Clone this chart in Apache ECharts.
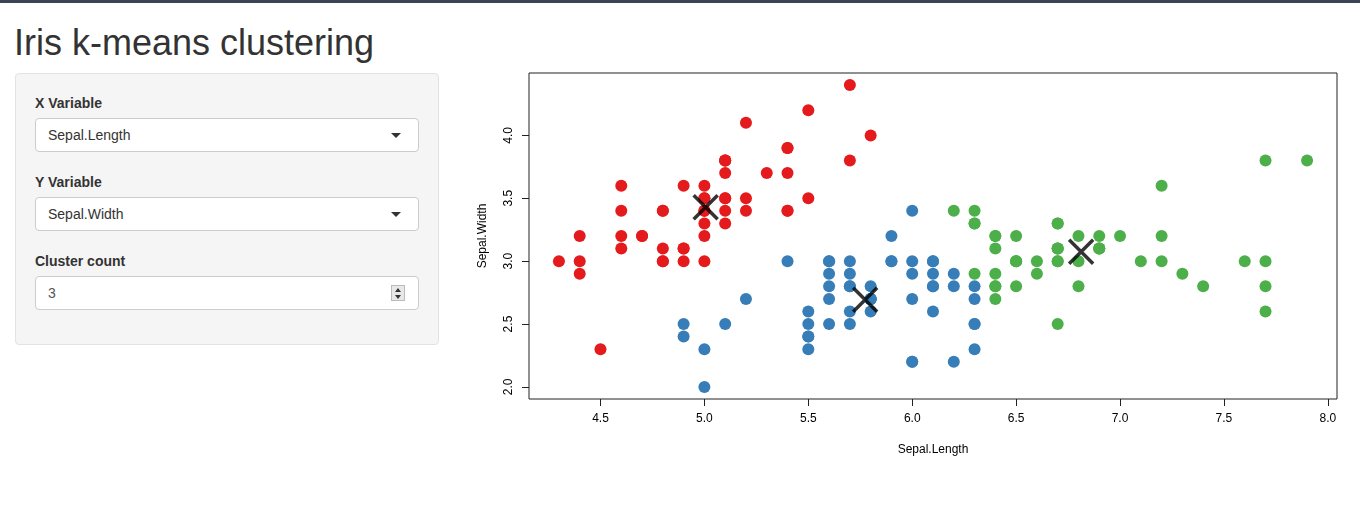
<!DOCTYPE html>
<html>
<head>
<meta charset="utf-8">
<script src="https://cdn.jsdelivr.net/npm/echarts@6/dist/echarts.min.js"></script>
<style>
  body { margin: 0; width: 1360px; height: 514px; background: #fff; font-family: "Liberation Sans", Arial, sans-serif; color: #333; overflow: hidden; position: relative; }
  #topbar { position: absolute; left: 0; top: 0; width: 100%; height: 3px; background: #3a4452; }
  #title { position: absolute; left: 14px; top: 22px; font-size: 36px; line-height: 41px; color: #333; }
  #panel { position: absolute; left: 15px; top: 73px; width: 384px; height: 232px; padding: 19px; background: #f5f5f5; border: 1px solid #e3e3e3; border-radius: 4px; }
  .lbl { font-size: 14px; font-weight: bold; line-height: 20px; height: 20px; margin-bottom: 5px; }
  .box { position: relative; box-sizing: border-box; height: 34px; background: #fff; border: 1px solid #ccc; border-radius: 4px; font-size: 14px; line-height: 32px; padding-left: 12px; color: #333; margin-bottom: 20px; }
  .caret { position: absolute; right: 17px; top: 14px; width: 0; height: 0; border-left: 5px solid transparent; border-right: 5px solid transparent; border-top: 5px solid #333; }
  .spin { position: absolute; right: 13px; top: 8px; width: 14px; height: 16px; background: #e8e8e8; border: 1px solid #bbb; box-sizing: border-box; }
  .spin i { position: absolute; left: 3px; width: 0; height: 0; border-left: 3px solid transparent; border-right: 3px solid transparent; }
  #chart { position: absolute; left: 455px; top: 60px; width: 905px; height: 420px; }
</style>
</head>
<body>
<div id="topbar"></div>
<div id="title">Iris k-means clustering</div>
<div id="panel">
  <div class="lbl">X Variable</div>
  <div class="box">Sepal.Length<span class="caret"></span></div>
  <div class="lbl">Y Variable</div>
  <div class="box">Sepal.Width<span class="caret"></span></div>
  <div class="lbl">Cluster count</div>
  <div class="box" style="color:#555">3<span class="spin"><i style="top:2px;border-bottom:4px solid #333"></i><i style="top:9px;border-top:4px solid #333"></i></span></div>
</div>
<div id="chart"></div>
<script>
// k-means (k = 3) on iris Sepal.Length / Sepal.Width
const cluster1 = [[5.1,3.5],[4.9,3.0],[4.7,3.2],[4.6,3.1],[5.0,3.6],[5.4,3.9],[4.6,3.4],[5.0,3.4],[4.4,2.9],[4.9,3.1],
  [5.4,3.7],[4.8,3.4],[4.8,3.0],[4.3,3.0],[5.8,4.0],[5.7,4.4],[5.4,3.9],[5.1,3.5],[5.7,3.8],[5.1,3.8],
  [5.4,3.4],[5.1,3.7],[4.6,3.6],[5.1,3.3],[4.8,3.4],[5.0,3.0],[5.0,3.4],[5.2,3.5],[5.2,3.4],[4.7,3.2],
  [4.8,3.1],[5.4,3.4],[5.2,4.1],[5.5,4.2],[4.9,3.1],[5.0,3.2],[5.5,3.5],[4.9,3.6],[4.4,3.0],[5.1,3.4],
  [5.0,3.5],[4.5,2.3],[4.4,3.2],[5.0,3.5],[5.1,3.8],[4.8,3.0],[5.1,3.8],[4.6,3.2],[5.3,3.7],[5.0,3.3]];
const cluster2 = [[5.5,2.3],[5.7,2.8],[4.9,2.4],[5.2,2.7],[5.0,2.0],[5.9,3.0],[6.0,2.2],[6.1,2.9],[5.6,2.9],[5.6,3.0],
  [5.8,2.7],[6.2,2.2],[5.6,2.5],[5.9,3.2],[6.1,2.8],[6.3,2.5],[6.1,2.8],[6.0,2.9],[5.7,2.6],[5.5,2.4],
  [5.5,2.4],[5.8,2.7],[6.0,2.7],[5.4,3.0],[6.0,3.4],[6.3,2.3],[5.6,3.0],[5.5,2.5],[5.5,2.6],[6.1,3.0],
  [5.8,2.6],[5.0,2.3],[5.6,2.7],[5.7,3.0],[5.7,2.9],[6.2,2.9],[5.1,2.5],[5.7,2.8],[5.8,2.7],[4.9,2.5],
  [5.7,2.5],[5.8,2.8],[6.0,2.2],[5.6,2.8],[6.3,2.7],[6.2,2.8],[6.1,3.0],[6.3,2.8],[6.1,2.6],[6.0,3.0],
  [5.8,2.7],[6.3,2.5],[5.9,3.0]];
const cluster3 = [[7.0,3.2],[6.4,3.2],[6.9,3.1],[6.5,2.8],[6.3,3.3],[6.6,2.9],[6.7,3.1],[6.4,2.9],[6.6,3.0],[6.8,2.8],
  [6.7,3.0],[6.7,3.1],[6.3,3.3],[7.1,3.0],[6.3,2.9],[6.5,3.0],[7.6,3.0],[7.3,2.9],[6.7,2.5],[7.2,3.6],
  [6.5,3.2],[6.4,2.7],[6.8,3.0],[6.4,3.2],[6.5,3.0],[7.7,3.8],[7.7,2.6],[6.9,3.2],[7.7,2.8],[6.7,3.3],
  [7.2,3.2],[6.4,2.8],[7.2,3.0],[7.4,2.8],[7.9,3.8],[6.4,2.8],[7.7,3.0],[6.3,3.4],[6.4,3.1],[6.9,3.1],
  [6.7,3.1],[6.9,3.1],[6.8,3.2],[6.7,3.3],[6.7,3.0],[6.5,3.0],[6.2,3.4]];
const centers = [[5.006,3.428],[5.773585,2.692453],[6.812766,3.074468]];
const clusterColors = ['#E41A1C', '#377EB8', '#4DAF4A'];
const xTicks = [4.5, 5.0, 5.5, 6.0, 6.5, 7.0, 7.5, 8.0];
const yTicks = [2.0, 2.5, 3.0, 3.5, 4.0];

const chart = echarts.init(document.getElementById('chart'));

const pointSeries = [cluster1, cluster2, cluster3].map((pts, i) => ({
  type: 'scatter',
  data: pts,
  symbol: 'circle',
  symbolSize: 12,
  itemStyle: { color: clusterColors[i], opacity: 1 },
  silent: true
}));

const axisText = { color: '#000', fontSize: 12, fontFamily: 'Liberation Sans' };

chart.setOption({
  animation: false,
  grid: { left: 74, top: 13, width: 808, height: 326, show: true, borderColor: '#222', borderWidth: 1, backgroundColor: 'transparent' },
  xAxis: {
    type: 'value',
    min: 4.156, max: 8.044,
    name: 'Sepal.Length', nameLocation: 'middle', nameGap: 45,
    nameTextStyle: axisText,
    axisLine: { show: false },
    splitLine: { show: false },
    axisTick: { show: true, inside: false, length: 7, lineStyle: { color: '#222' }, customValues: xTicks },
    axisLabel: Object.assign({ margin: 14, customValues: xTicks, formatter: v => v.toFixed(1) }, axisText)
  },
  yAxis: {
    type: 'value',
    min: 1.904, max: 4.496,
    name: 'Sepal.Width', nameLocation: 'middle', nameGap: 40, nameRotate: 90,
    nameTextStyle: axisText,
    axisLine: { show: false },
    splitLine: { show: false },
    axisTick: { show: true, inside: false, length: 7, lineStyle: { color: '#222' }, customValues: yTicks },
    axisLabel: Object.assign({ margin: 14, rotate: 90, customValues: yTicks, formatter: v => v.toFixed(1) }, axisText)
  },
  series: pointSeries.concat([{
    type: 'scatter',
    data: centers,
    symbol: 'path://M0,0L10,10M10,0L0,10',
    symbolSize: 24,
    itemStyle: { color: 'rgba(0,0,0,0)', borderColor: '#000', borderWidth: 3.5 },
    z: 5,
    silent: true
  }])
});
</script>
</body>
</html>
